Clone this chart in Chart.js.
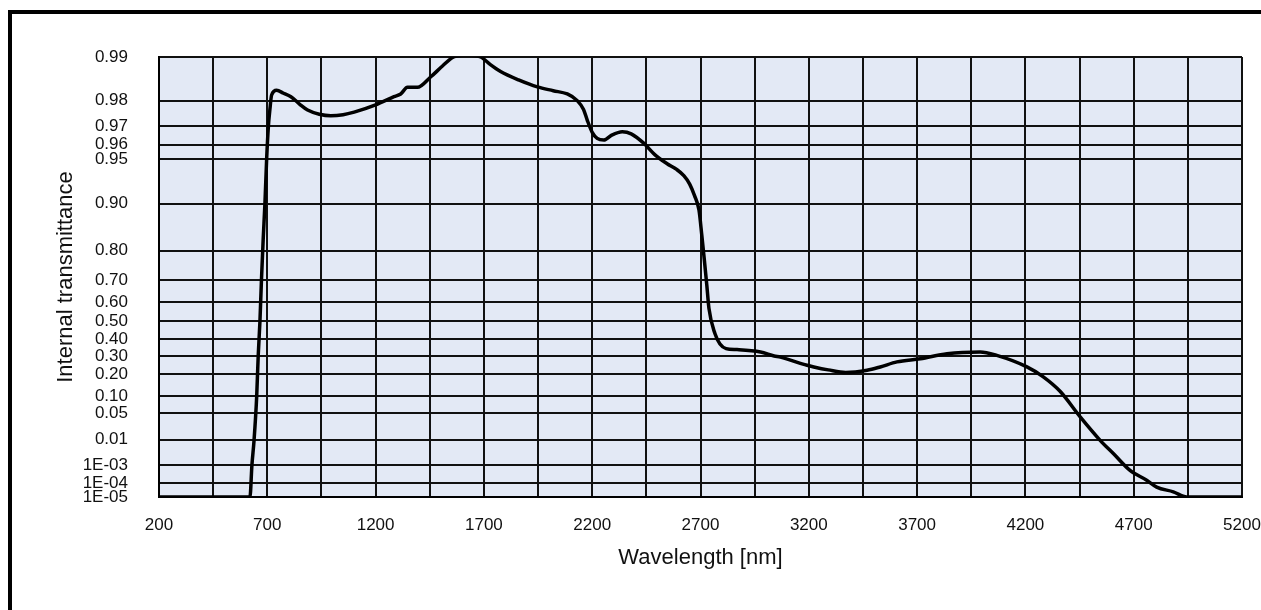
<!DOCTYPE html>
<html>
<head>
<meta charset="utf-8">
<title>Internal transmittance</title>
<script src="https://cdn.jsdelivr.net/npm/chart.js@4.4.1/dist/chart.umd.min.js"></script>
<style>
    body { margin: 0; background: #fff; overflow: hidden; }
    canvas { display: block; }
</style>
</head>
<body>
<canvas id="transmittance" width="1261" height="610"></canvas>
<script>
// wavelengths in nm
const wavelengths = [
    200, 400, 620, 629, 639, 651, 658, 666, 673, 681,
    689, 697, 705, 712, 720, 743, 775, 809, 850, 886,
    940, 993, 1050, 1101, 1200, 1285, 1316, 1347, 1393, 1455,
    1510, 1560, 1620, 1685, 1730, 1777, 1860, 1947, 2020, 2085,
    2131, 2160, 2177, 2200, 2223, 2254, 2290, 2339, 2380, 2439,
    2490, 2546, 2590, 2623, 2650, 2672, 2693, 2706, 2718, 2729,
    2739, 2767, 2790, 2818, 2869, 2977, 3040, 3069, 3192, 3223,
    3290, 3370, 3469, 3530, 3607, 3715, 3838, 3991, 4068, 4207,
    4281, 4360, 4453, 4545, 4606, 4683, 4760, 4806, 4883, 4945,
    5200
]
// internal transmittance at each wavelength
const transmittance = [
    1e-5, 1e-5, 1e-5, 1e-3, 0.01, 0.1, 0.3, 0.5, 0.7, 0.83,
    0.90, 0.95, 0.97, 0.977, 0.9817, 0.983, 0.9822, 0.9812, 0.9788, 0.9768,
    0.9752, 0.9746, 0.9750, 0.9760, 0.9786, 0.9812, 0.9820, 0.9838, 0.9838, 0.9863,
    0.9885, 0.9900, 0.9903, 0.9900, 0.9887, 0.9874, 0.9856, 0.9839, 0.9829, 0.9820,
    0.9800, 0.9770, 0.9728, 0.9670, 0.9637, 0.9627, 0.9655, 0.9673, 0.9662, 0.9607,
    0.9530, 0.9460, 0.9410, 0.9350, 0.9260, 0.9120, 0.89, 0.84, 0.77, 0.68,
    0.57, 0.43, 0.37, 0.343, 0.337, 0.323, 0.300, 0.293, 0.247, 0.238,
    0.222, 0.208, 0.220, 0.238, 0.266, 0.284, 0.313, 0.323, 0.303, 0.238,
    0.187, 0.120, 0.041, 0.0096, 0.0032, 5.4e-4, 1.5e-4, 5.4e-5, 2.5e-5, 1e-5,
    1e-5
]

// y axis ticks (transmittance) and their labels
const yTickValues = [0.99, 0.98, 0.97, 0.96, 0.95, 0.90, 0.80, 0.70, 0.60, 0.50, 0.40, 0.30, 0.20, 0.10, 0.05, 0.01, 1e-3, 1e-4, 1e-5]
const yTickLabels = ['0.99', '0.98', '0.97', '0.96', '0.95', '0.90', '0.80', '0.70', '0.60', '0.50', '0.40', '0.30', '0.20', '0.10', '0.05', '0.01', '1E-03', '1E-04', '1E-05']

// x axis labels, grid every half step
const xTickLabels = [200, 700, 1200, 1700, 2200, 2700, 3200, 3700, 4200, 4700, 5200]
const xGridStep = 250

// transmittance scale: log of optical density, flipped so high T is on top
const toScale = t => -Math.log10(-Math.log10(t))

document.addEventListener("DOMContentLoaded", function () {
    const FONT = 'Liberation Sans, Arial, sans-serif'

    // pair the arrays into points
    let points = []
    for (let i = 0; i < wavelengths.length; i++) {
        points.push({ x: wavelengths[i], y: toScale(transmittance[i]) })
    }

    // background of plot area and the black frame around the picture
    const framePlugin = {
        id: 'framePlugin',
        beforeDraw(chart) {
            const { ctx, chartArea } = chart
            ctx.save()
            ctx.fillStyle = '#fff'
            ctx.fillRect(0, 0, chart.width, chart.height)
            ctx.fillStyle = '#e3e9f5'
            ctx.fillRect(chartArea.left, chartArea.top, chartArea.right - chartArea.left, chartArea.bottom - chartArea.top)
            ctx.restore()
        },
        afterDraw(chart) {
            const ctx = chart.ctx
            ctx.save()
            ctx.fillStyle = '#000'
            ctx.fillRect(8, 10, chart.width - 8, 4)
            ctx.fillRect(8, 10, 4, chart.height - 10)
            ctx.restore()
        }
    }

    new Chart(document.getElementById('transmittance'), {
        type: 'line',
        data: {
            datasets: [{
                data: points,
                borderColor: '#000',
                borderWidth: 3.5,
                pointRadius: 0,
                fill: false,
                cubicInterpolationMode: 'monotone'
            }]
        },
        options: {
            responsive: false,
            animation: false,
            layout: { padding: { left: 0, top: 57, right: 0, bottom: 0 } },
            plugins: {
                legend: { display: false },
                tooltip: { enabled: false }
            },
            scales: {
                x: {
                    type: 'linear',
                    min: 200,
                    max: 5200,
                    afterBuildTicks: function (scale) {
                        let ticks = []
                        for (let v = 200; v <= 5200; v += xGridStep) ticks.push({ value: v })
                        scale.ticks = ticks
                    },
                    afterFit: function (scale) {
                        // fixed height and room on the right for the last label only
                        scale.height = 113
                        scale.paddingLeft = 0
                        scale.paddingRight = 19
                    },
                    grid: { color: '#111', lineWidth: 2, drawTicks: false },
                    border: { display: true, color: '#000', width: 2 },
                    ticks: {
                        autoSkip: false,
                        maxRotation: 0,
                        padding: 18,
                        color: '#111',
                        font: { family: FONT, size: 17 },
                        callback: function (value) {
                            return xTickLabels.includes(value) ? String(value) : ''
                        }
                    },
                    title: {
                        display: true,
                        text: 'Wavelength [nm]',
                        color: '#111',
                        font: { family: FONT, size: 22 },
                        padding: { top: 0, bottom: 39 }
                    }
                },
                y: {
                    type: 'linear',
                    min: toScale(1e-5),
                    max: toScale(0.99),
                    afterBuildTicks: function (scale) {
                        scale.ticks = yTickValues.map(v => ({ value: toScale(v) }))
                    },
                    afterFit: function (scale) { scale.width = 159 },
                    grid: { color: '#111', lineWidth: 2, drawTicks: false },
                    border: { display: true, color: '#000', width: 2 },
                    ticks: {
                        autoSkip: false,
                        padding: 31,
                        color: '#111',
                        font: { family: FONT, size: 17 },
                        callback: function (value, index) {
                            return yTickLabels[index]
                        }
                    },
                    title: {
                        display: true,
                        text: 'Internal transmittance',
                        color: '#111',
                        font: { family: FONT, size: 22 },
                        padding: { top: 53, bottom: 0 }
                    }
                }
            }
        },
        plugins: [framePlugin]
    })
})
</script>
</body>
</html>
